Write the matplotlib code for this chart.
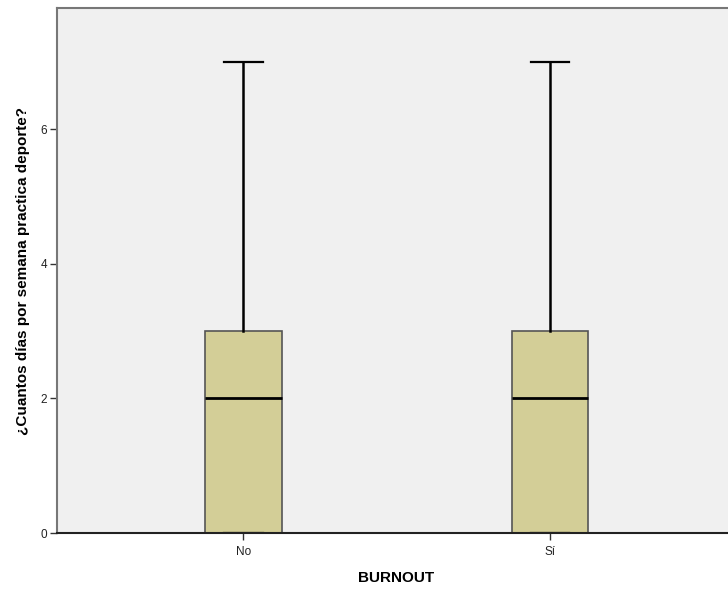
import matplotlib.pyplot as plt

plt.rcParams['font.family'] = ['Liberation Sans', 'DejaVu Sans']

# resumen del boxplot (SPSS)
groups = ['No', 'Sí']
medians = [2, 2]
q1s = [0, 0]
q3s = [3, 3]
lows = [0, 0]
highs = [7, 7]

stats = []
for g, med, q1, q3, lo, hi in zip(groups, medians, q1s, q3s, lows, highs):
    stats.append({'label': g, 'med': med, 'q1': q1, 'q3': q3,
                  'whislo': lo, 'whishi': hi, 'fliers': []})

fig = plt.figure(figsize=(7.28, 5.90), dpi=100)
ax = fig.add_axes([0.0783, 0.0966, 0.9327, 0.8898])
ax.set_facecolor('#F0F0F0')

ax.bxp(stats, positions=[1, 2], widths=0.251, patch_artist=True,
       showfliers=False,
       boxprops=dict(facecolor='#D3CE97', edgecolor='#555555', linewidth=1.2),
       medianprops=dict(color='black', linewidth=2),
       whiskerprops=dict(color='black', linewidth=1.8),
       capprops=dict(color='black', linewidth=1.6))

ax.set_xlim(0.3915, 2.607)
ax.set_ylim(0, 7.8)
ax.set_yticks([0, 2, 4, 6])
ax.set_xticks([1, 2])
ax.set_xticklabels(groups)

for s in ['left', 'top', 'right']:
    ax.spines[s].set_color('#777777')
    ax.spines[s].set_linewidth(1.5)
ax.spines['bottom'].set_color('#222222')
ax.spines['bottom'].set_linewidth(1.5)

ax.tick_params(axis='both', direction='out', length=5, width=1,
               color='#333333', labelsize=8.5, labelcolor='#222222', pad=2)
ax.tick_params(axis='x', pad=4)

ax.set_ylabel('¿Cuantos días por semana practica deporte?', fontsize=11,
              fontweight='bold', labelpad=8)
ax.set_xlabel('BURNOUT', fontsize=11, fontweight='bold', labelpad=10)

plt.savefig('out.png', dpi=100)
